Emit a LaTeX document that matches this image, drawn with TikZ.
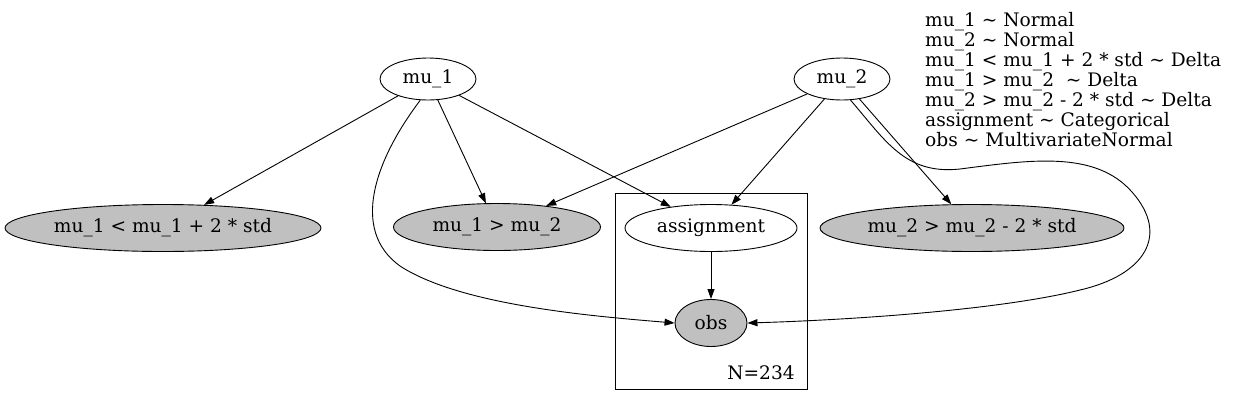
\documentclass[tikz,border=0pt]{standalone}
\usepackage{fontspec}
\setmainfont{DejaVu Serif}
\usetikzlibrary{shapes.geometric,arrows.meta}
\definecolor{nodegray}{RGB}{192,192,192}

\begin{document}
\begin{tikzpicture}[x=1pt,y=-1pt,
    font=\fontsize{18.6}{20}\selectfont,
    rv/.style={draw,ellipse,line width=0.9pt,inner sep=0pt,minimum height=47pt},
    obsrv/.style={rv,fill=nodegray},
    edge/.style={line width=0.9pt,-{Triangle[length=10pt,width=7pt]}}]
	\useasboundingbox (0,0) rectangle (1242,405);
	% plate
	\node[draw,line width=0.9pt,minimum width=192pt,minimum height=196pt,inner sep=0pt] (plate) at (711,291) {};
	\node (N) at (761,373) {N=234};
	% nodes
	\node[rv,minimum width=96pt,minimum height=42pt] (mu1) at (428,79) {mu\_1};
	\node[rv,minimum width=96pt,minimum height=42pt] (mu2) at (842,79) {mu\_2};
	\node[obsrv,minimum width=316pt] (lower) at (163,228) {mu\_1 < mu\_1 + 2 * std};
	\node[obsrv,minimum width=207pt] (order) at (497,227) {mu\_1 > mu\_2};
	\node[rv,minimum width=172pt] (assign) at (711,228) {assignment};
	\node[obsrv,minimum width=304pt] (upper) at (972,228) {mu\_2 > mu\_2 - 2 * std};
	\node[obsrv,minimum width=72pt] (obs) at (711,323) {obs};
	% legend
	\node[anchor=north west,align=left,inner sep=0pt] (legend) at (925,12) {%
		mu\_1 \textasciitilde{} Normal\\
		mu\_2 \textasciitilde{} Normal\\
		mu\_1 < mu\_1 + 2 * std \textasciitilde{} Delta\\
		mu\_1 > mu\_2 \ \textasciitilde{} Delta\\
		mu\_2 > mu\_2 - 2 * std \textasciitilde{} Delta\\
		assignment \textasciitilde{} Categorical\\
		obs \textasciitilde{} MultivariateNormal};
	% edges
	\draw[edge] (mu1) -- (lower);
	\draw[edge] (mu1) -- (order);
	\draw[edge] (mu1) -- (assign);
	\draw[edge] (mu1.250) .. controls (375,160) and (350,230) .. (400,266) .. controls (460,305) and (590,316) .. (obs.west);
	\draw[edge] (mu2) -- (order);
	\draw[edge] (mu2) -- (assign);
	\draw[edge] (mu2) -- (upper);
	\draw[edge] (mu2.292) .. controls (885,140) and (905,175) .. (960,169) .. controls (1030,160) and (1095,150) .. (1132,192) .. controls (1170,235) and (1145,275) .. (1080,290) .. controls (1000,310) and (850,320) .. (obs.east);
	\draw[edge] (assign) -- (obs);
\end{tikzpicture}
\end{document}
